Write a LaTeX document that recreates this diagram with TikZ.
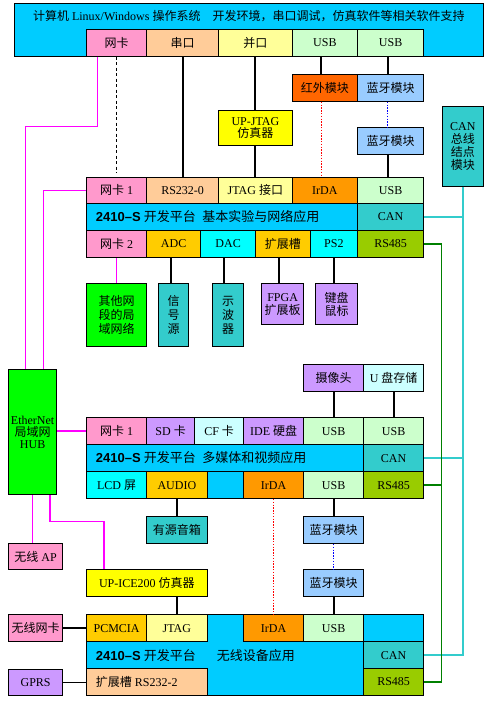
\documentclass[tikz,border=0pt]{standalone}
\usepackage{fontspec}
\setmainfont{Liberation Serif}
\newfontfamily\cjk{Noto Sans CJK SC}
\newfontfamily\lsans{Liberation Sans}
\newcommand\zh[1]{{\cjk #1}}
\definecolor{cpc}{HTML}{00CCFF}
\definecolor{cpink}{HTML}{FF99CC}
\definecolor{cpeach}{HTML}{FFCC99}
\definecolor{clyel}{HTML}{FFFF99}
\definecolor{clgreen}{HTML}{CCFFCC}
\definecolor{corange}{HTML}{FF6600}
\definecolor{cirda}{HTML}{FF9900}
\definecolor{clblue}{HTML}{99CCFF}
\definecolor{cyel}{HTML}{FFFF00}
\definecolor{cteal}{HTML}{33CCCC}
\definecolor{cgold}{HTML}{FFCC00}
\definecolor{ccyan}{HTML}{00FFFF}
\definecolor{colive}{HTML}{99CC00}
\definecolor{cgreen}{HTML}{00FF00}
\definecolor{cpurple}{HTML}{CC99FF}
\definecolor{clcyan}{HTML}{CCFFFF}
\definecolor{cmag}{HTML}{FF00FF}
\definecolor{cdgreen}{HTML}{008000}
\tikzset{
  cellbox/.style={draw=black, line width=0.7pt, inner sep=0pt, align=center,
    font=\fontsize{12}{15}\selectfont, text=black},
  blk/.style={draw=black, line width=1.8pt},
  blkdash/.style={draw=black, line width=0.8pt, dash pattern=on 3pt off 2.5pt},
  reddot/.style={draw=red, line width=1.2pt, dash pattern=on 1.4pt off 1.4pt},
  bluedot/.style={draw=blue, line width=1.2pt, dash pattern=on 1.4pt off 1.4pt},
  mag/.style={draw=cmag, line width=1.4pt},
  cy/.style={draw=cteal, line width=1.4pt},
  gr/.style={draw=cdgreen, line width=1.5pt},
  lab/.style={inner sep=0pt, anchor=west, font=\fontsize{13}{15}\selectfont}
}
\newcommand\cell[7]{\node[cellbox, fill=#6, minimum width={#4pt-#2pt}, minimum height={#5pt-#3pt}, anchor=north west] (#1) at (#2,#3) {#7};}
\begin{document}
\begin{tikzpicture}[x=1pt,y=-1pt]
\useasboundingbox (0,0) rectangle (491,701);
\fill[white] (0,0) rectangle (491,701);
% computer
\cell{pc}{14.3}{3.3}{483.3}{56}{cpc}{}
\node[inner sep=0pt, font=\fontsize{12}{14}\selectfont] (pctitle) at (248.8,16.3) {\zh{计算机} Linux/Windows \zh{操作系统\quad 开发环境，串口调试，仿真软件等相关软件支持}};
\cell{pcnic}{86.3}{29.3}{146.3}{56}{cpink}{\zh{网卡}}
\cell{pcser}{146.3}{29.3}{218.3}{56}{cpeach}{\zh{串口}}
\cell{pcpar}{218.3}{29.3}{291.7}{56}{clyel}{\zh{并口}}
\cell{pcusbA}{291.7}{29.3}{357.3}{56}{clgreen}{USB}
\cell{pcusbB}{357.3}{29.3}{423.3}{56}{clgreen}{USB}
% modules
\cell{ir}{291.7}{74}{357.3}{101}{corange}{\zh{红外模块}}
\cell{btA}{357.3}{74}{423.3}{101}{clblue}{\zh{蓝牙模块}}
\cell{upjtag}{218.3}{110}{291.7}{145}{cyel}{UP-JTAG\\[-3pt]\zh{仿真器}}
\cell{btB}{357.3}{127.3}{423.3}{154}{clblue}{\zh{蓝牙模块}}
\cell{canmod}{441.7}{106}{483.3}{186}{cteal}{CAN\\[-2pt]\zh{总线}\\[-2pt]\zh{结点}\\[-2pt]\zh{模块}}
% platform 1
\cell{p1}{86.3}{176.7}{423.3}{257.3}{cpc}{}
\cell{p1nic}{86.3}{176.7}{146.3}{203.3}{cpink}{\zh{网卡} 1}
\cell{p1ser}{146.3}{176.7}{218.3}{203.3}{cpeach}{RS232-0}
\cell{p1jtag}{218.3}{176.7}{291.7}{203.3}{clyel}{JTAG \zh{接口}}
\cell{p1ir}{291.7}{176.7}{357.3}{203.3}{cirda}{IrDA}
\cell{p1usb}{357.3}{176.7}{423.3}{203.3}{clgreen}{USB}
\cell{p1main}{86.3}{203.3}{357.3}{230}{cpc}{}
\node[lab] (p1lab) at (95.7,216.7) {{\lsans\bfseries 2410–S} \zh{开发平台\enspace 基本实验与网络应用}};
\cell{p1can}{357.3}{203.3}{423.3}{230}{cteal}{CAN}
\cell{p1nic2}{86.3}{230}{146.3}{257.3}{cpink}{\zh{网卡} 2}
\cell{p1adc}{146.3}{230}{200.3}{257.3}{cgold}{ADC}
\cell{p1dac}{200.3}{230}{255.3}{257.3}{ccyan}{DAC}
\cell{p1slot}{255.3}{230}{309.7}{257.3}{cgold}{\zh{扩展槽}}
\cell{p1ps2}{309.7}{230}{357.3}{257.3}{ccyan}{PS2}
\cell{p1rs}{357.3}{230}{423.3}{257.3}{colive}{RS485}
% peripherals 1
\cell{lan}{86.3}{283.3}{146.3}{346}{cgreen}{\zh{其他网}\\[-1pt]\zh{段的局}\\[-1pt]\zh{域网络}}
\cell{sig}{158.3}{283.3}{188.3}{346}{cteal}{\zh{信}\\[-1pt]\zh{号}\\[-1pt]\zh{源}}
\cell{osc}{212.3}{283.3}{243.3}{346}{cteal}{\zh{示}\\[-1pt]\zh{波}\\[-1pt]\zh{器}}
\cell{fpga}{261.3}{283.3}{303.3}{324.3}{cpurple}{FPGA\\[-2pt]\zh{扩展板}}
\cell{kbd}{315.3}{283.3}{357.3}{324.3}{cpurple}{\zh{键盘}\\[-2pt]\zh{鼠标}}
% hub
\cell{hub}{8.3}{369.3}{56.3}{494.3}{cgreen}{EtherNet\\[-3pt]\zh{局域网}\\[-3pt]HUB}
\cell{cam}{303.3}{364.3}{363.3}{391}{cpurple}{\zh{摄像头}}
\cell{udisk}{363.3}{364.3}{423.3}{391}{clcyan}{U \zh{盘存储}}
% platform 2
\cell{p2}{86.3}{417.3}{423.3}{498.3}{cpc}{}
\cell{p2nic}{86.3}{417.3}{146.3}{444.3}{cpink}{\zh{网卡} 1}
\cell{p2sd}{146.3}{417.3}{194.3}{444.3}{cpurple}{SD \zh{卡}}
\cell{p2cf}{194.3}{417.3}{243.3}{444.3}{clcyan}{CF \zh{卡}}
\cell{p2ide}{243.3}{417.3}{303.3}{444.3}{cpurple}{IDE \zh{硬盘}}
\cell{p2usbA}{303.3}{417.3}{363.3}{444.3}{clgreen}{USB}
\cell{p2usbB}{363.3}{417.3}{423.3}{444.3}{clgreen}{USB}
\cell{p2main}{86.3}{444.3}{363.3}{471.3}{cpc}{}
\node[lab] (p2lab) at (95.7,457.8) {{\lsans\bfseries 2410–S} \zh{开发平台\enspace 多媒体和视频应用}};
\cell{p2can}{363.3}{444.3}{423.3}{471.3}{cteal}{CAN}
\cell{p2lcd}{86.3}{471.3}{146.3}{498.3}{ccyan}{LCD \zh{屏}}
\cell{p2audio}{146.3}{471.3}{206.7}{498.3}{cgold}{AUDIO}
\cell{p2ir}{243.3}{471.3}{303.3}{498.3}{cirda}{IrDA}
\cell{p2usbC}{303.3}{471.3}{363.3}{498.3}{clgreen}{USB}
\cell{p2rs}{363.3}{471.3}{423.3}{498.3}{colive}{RS485}
% peripherals 2
\cell{spk}{146.3}{516}{206.7}{543.3}{cteal}{\zh{有源音箱}}
\cell{btC}{303.3}{516}{363.3}{543.3}{clblue}{\zh{蓝牙模块}}
\cell{ap}{8.3}{543.3}{62.3}{569.3}{cpink}{\zh{无线} AP}
\cell{ice}{86.3}{569.3}{206.7}{596.3}{cyel}{UP-ICE200 \zh{仿真器}}
\cell{btD}{303.3}{569.3}{363.3}{596.3}{clblue}{\zh{蓝牙模块}}
\cell{wnic}{8.3}{614.3}{62.3}{641.3}{cpink}{\zh{无线网卡}}
\cell{gprs}{8.3}{669.3}{62.3}{695}{cpurple}{GPRS}
% platform 3
\cell{p3}{86.3}{614.3}{423.3}{695}{cpc}{}
\cell{p3pcm}{86.3}{614.3}{146.3}{641.3}{cgold}{PCMCIA}
\cell{p3jtag}{146.3}{614.3}{206.7}{641.3}{clyel}{JTAG}
\cell{p3ir}{243.3}{614.3}{303.3}{641.3}{cirda}{IrDA}
\cell{p3usb}{303.3}{614.3}{363.3}{641.3}{clgreen}{USB}
\cell{p3blank}{363.3}{614.3}{423.3}{641.3}{cpc}{}
\cell{p3can}{363.3}{641.3}{423.3}{668.3}{cteal}{CAN}
\cell{p3rs}{363.3}{668.3}{423.3}{695}{colive}{RS485}
\cell{p3ext}{86.3}{668.3}{206.7}{695}{cpeach}{}
\node[lab, font=\fontsize{12}{14}\selectfont] (p3extlab) at (95.7,681.7) {\zh{扩展槽} RS232-2};
\node[lab] (p3lab) at (95.7,655.3) {{\lsans\bfseries 2410–S} \zh{开发平台}};
\node[lab] (p3lab2) at (216.7,655.3) {\zh{无线设备应用}};
% connectors
\draw[blk] (pcser.south) -- (pcser.south |- p1ser.north);
\draw[blk] (pcpar.south) -- (pcpar.south |- upjtag.north);
\draw[blk] (upjtag.south) -- (upjtag.south |- p1jtag.north);
\draw[blk] ([xshift=-3.5]pcusbA.south) -- ([xshift=-3.5]pcusbA.south |- ir.north);
\draw[blk] ([xshift=-3]pcusbB.south) -- ([xshift=-3]pcusbB.south |- btA.north);
\draw[reddot] ([xshift=-3.5]ir.south) -- ([xshift=-3.5]ir.south |- p1ir.north);
\draw[bluedot] ([xshift=-3]btA.south) -- ([xshift=-3]btA.south |- btB.north);
\draw[blk] ([xshift=-3]btB.south) -- ([xshift=-3]btB.south |- p1usb.north);
\draw[blkdash] (pcnic.south) -- ([yshift=4]pcnic.south |- p1nic.north);
\draw[mag] ([xshift=11.4]pcnic.south west) -- ++(0,70) -| ([xshift=17.4]hub.north west);
\draw[mag] (p1nic.west) -| ([xshift=35.4]hub.north west);
\draw[mag] (p1nic2.south) -- (p1nic2.south |- lan.north);
\draw[blk] ([xshift=-3]p1adc.south) -- ([xshift=-3]p1adc.south |- sig.north);
\draw[blk] ([xshift=-4]p1dac.south) -- ([xshift=-4]p1dac.south |- osc.north);
\draw[blk] ([xshift=-3.5]p1slot.south) -- ([xshift=-3.5]p1slot.south |- fpga.north);
\draw[blk] (p1ps2.south) -- (p1ps2.south |- kbd.north);
\draw[cy] (canmod.south) |- (p3can.east);
\draw[cy] (p1can.east) -- (p1can.east -| canmod.south);
\draw[cy] (p2can.east) -- (p2can.east -| canmod.south);
\draw[gr] (p1rs.east) -- ++(17.7,0) |- (p3rs.east);
\draw[gr] (p2rs.east) -- ++(17.7,0);
\draw[blk] (cam.south) -- (cam.south |- p2usbA.north);
\draw[blk] (udisk.south) -- (udisk.south |- p2usbB.north);
\draw[mag] (hub.east |- p2nic.west) -- (p2nic.west);
\draw[mag] ([xshift=24]hub.south west) -- ([xshift=24]hub.south west |- ap.north);
\draw[mag] ([xshift=41.7]hub.south west) -- ++(0,26.7) -| ([xshift=17.7]ice.north west);
\draw[blk] (p2audio.south) -- (p2audio.south |- spk.north);
\draw[reddot] (p2ir.south) -- (p2ir.south |- p3ir.north);
\draw[blk] (p2usbC.south) -- (p2usbC.south |- btC.north);
\draw[bluedot] (btC.south) -- (btC.south |- btD.north);
\draw[blk] (btD.south) -- (btD.south |- p3usb.north);
\draw[blk] (p3jtag.north |- ice.south) -- (p3jtag.north);
\draw[blk] (wnic.east) -- (wnic.east -| p3pcm.west);
\draw[blk] (gprs.east) -- (gprs.east -| p3ext.west);
\end{tikzpicture}
\end{document}
